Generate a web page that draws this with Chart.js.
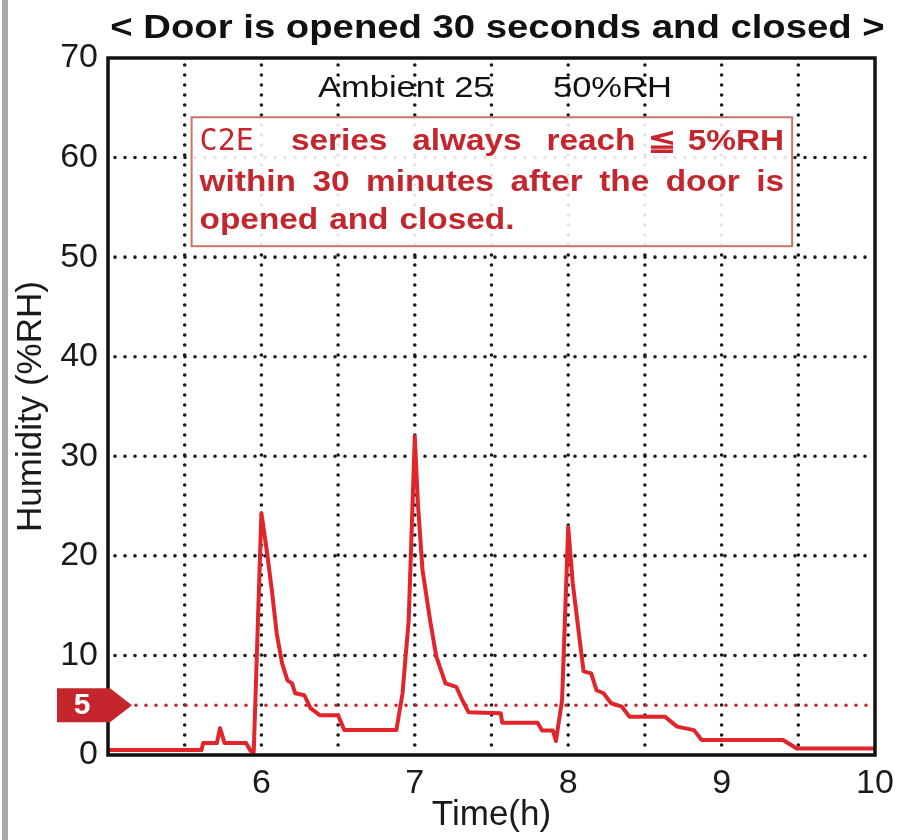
<!DOCTYPE html>
<html>
<head>
<meta charset="utf-8">
<title>Door opening humidity recovery</title>
<script src="https://cdn.jsdelivr.net/npm/chart.js@4.4.1/dist/chart.umd.min.js"></script>
<style>
    html, body { margin: 0; padding: 0; background: #fff; }
    #wrap { width: 897px; height: 840px; position: relative; }
</style>
</head>
<body>
<div id="wrap"><canvas id="humidityChart"></canvas></div>
<script>
// Values
var hours = [5.0, 5.61, 5.62, 5.71, 5.73, 5.76, 5.90, 5.93, 5.95,
    6.00, 6.037, 6.07, 6.10, 6.135, 6.17, 6.20, 6.22, 6.28, 6.32, 6.38,
    6.50, 6.54, 6.88, 6.92, 6.96,
    7.00, 7.02, 7.05, 7.10, 7.14, 7.20, 7.27, 7.31, 7.35,
    7.56, 7.57, 7.80, 7.83, 7.90, 7.92, 7.96,
    8.00, 8.03, 8.10, 8.15, 8.185, 8.23, 8.28, 8.35, 8.40,
    8.63, 8.71, 8.82, 8.87, 9.40, 9.49, 10.0];
var humidity = [0.5, 0.5, 1.2, 1.2, 2.7, 1.2, 1.2, 0.4, 0.3,
    24.3, 20.3, 16.3, 12.2, 9.2, 7.5, 7.2, 6.2, 6.0, 4.7, 4.0,
    4.0, 2.5, 2.5, 6.2, 13.5,
    32.0, 25.3, 18.6, 13.5, 9.9, 7.2, 6.85, 5.5, 4.3,
    4.2, 3.25, 3.25, 2.45, 2.45, 1.4, 5.5,
    22.9, 17.2, 8.4, 8.2, 6.5, 6.2, 5.2, 4.85, 3.85,
    3.85, 2.85, 2.5, 1.5, 1.5, 0.65, 0.65];
var xTickLabels = ['6', '7', '8', '9', '10'];
var yTickLabels = ['0', '10', '20', '30', '40', '50', '60', '70'];
var limitValue = 5;

var chartTitle = '< Door is opened 30 seconds and closed >';
var ambientText = ['Ambient 25', '50%RH'];
var noteLines = [
    ['C2E', 'series', 'always', 'reach', '\u2266', '5%RH'],
    ['within', '30', 'minutes', 'after', 'the', 'door', 'is'],
    ['opened', 'and', 'closed.']
];

var FONT = 'Arial, "Liberation Sans", Helvetica, sans-serif';
var RED = '#c4262e';
var NOTE_FONT = 'bold 29px ' + FONT;
var CODE_FONT = '30px "DejaVu Sans Mono", monospace';

// draws a line of words spread between x0 and x1
function drawWords(ctx, words, x0, x1, y, justify, sx) {
    var fonts = words.map(function(w) { return w === 'C2E' ? CODE_FONT : NOTE_FONT; });
    var widths = words.map(function(w, i) {
        ctx.font = fonts[i];
        return ctx.measureText(w).width * (w === 'C2E' ? 1 : sx);
    });
    var total = widths.reduce(function(a, b) { return a + b; }, 0);
    var weights = words.map(function(w, i) {
        if (i === 0) return 0;
        if (words[i - 1] === 'C2E') return 1.5;
        if (w === '\u2266' || words[i - 1] === '\u2266') return 0.5;
        return 1;
    });
    var wsum = weights.reduce(function(a, b) { return a + b; }, 0);
    var unit = justify ? (x1 - x0 - total) / wsum : 11;
    var x = x0;
    words.forEach(function(w, i) {
        x += weights[i] * unit;
        ctx.save();
        ctx.font = fonts[i];
        ctx.translate(x, y);
        if (w !== 'C2E') ctx.scale(sx, 1);
        ctx.fillText(w, 0, 0);
        ctx.restore();
        x += widths[i];
    });
}

function stretchedText(ctx, text, x, y, sx, align) {
    ctx.save();
    ctx.translate(x, y);
    ctx.scale(sx, 1);
    ctx.textAlign = align || 'left';
    ctx.fillText(text, 0, 0);
    ctx.restore();
}

var decorPlugin = {
    id: 'decor',
    beforeDraw: function(chart) {
        var ctx = chart.ctx;
        ctx.save();
        ctx.fillStyle = '#fff';
        ctx.fillRect(0, 0, chart.width, chart.height);
        ctx.fillStyle = '#a9a9a9';
        ctx.fillRect(2, 0, 6, chart.height);
        ctx.restore();
    },
    beforeDatasetsDraw: function(chart) {
        var ctx = chart.ctx, a = chart.chartArea;
        var xs = chart.scales.x, ys = chart.scales.y;
        ctx.save();
        ctx.lineCap = 'round';
        ctx.lineWidth = 3.6;
        ctx.setLineDash([0, 10]);
        ctx.strokeStyle = '#1a1a1a';
        xs.ticks.forEach(function(t) {
            if (t.value <= xs.min || t.value >= xs.max) return;
            var px = xs.getPixelForValue(t.value);
            ctx.beginPath();
            ctx.moveTo(px, a.top + 7);
            ctx.lineTo(px, a.bottom);
            ctx.stroke();
        });
        ys.ticks.forEach(function(t) {
            if (t.value <= ys.min || t.value >= ys.max) return;
            var py = ys.getPixelForValue(t.value);
            ctx.beginPath();
            ctx.moveTo(a.left + 7, py);
            ctx.lineTo(a.right, py);
            ctx.stroke();
        });
        // dotted limit line at 5 %RH
        var p5 = ys.getPixelForValue(limitValue);
        ctx.strokeStyle = RED;
        ctx.beginPath();
        ctx.moveTo(a.left + 28, p5);
        ctx.lineTo(a.right, p5);
        ctx.stroke();
        ctx.restore();
    },
    afterDatasetsDraw: function(chart) {
        var ctx = chart.ctx, a = chart.chartArea;
        var xs = chart.scales.x, ys = chart.scales.y;
        ctx.save();

        // frame
        ctx.strokeStyle = '#111';
        ctx.lineWidth = 3.5;
        ctx.strokeRect(a.left, a.top, a.right - a.left, a.bottom - a.top);

        // title
        ctx.fillStyle = '#111';
        ctx.font = 'bold 33px ' + FONT;
        stretchedText(ctx, chartTitle, (a.left + a.right) / 2 + 6, 38, 1.16, 'center');

        // ambient condition
        ctx.fillStyle = '#111';
        ctx.font = '30px ' + FONT;
        stretchedText(ctx, ambientText[0], a.left + 210, a.top + 39, 1.15);
        stretchedText(ctx, ambientText[1], a.left + 445, a.top + 39, 1.15);

        // note box
        var bx0 = xs.getPixelForValue(5.545), bx1 = xs.getPixelForValue(9.46);
        var by0 = ys.getPixelForValue(64.05), by1 = ys.getPixelForValue(51.1);
        ctx.fillStyle = 'rgba(255,255,255,0.88)';
        ctx.fillRect(bx0, by0, bx1 - bx0, by1 - by0);
        ctx.strokeStyle = '#c97565';
        ctx.lineWidth = 2;
        ctx.strokeRect(bx0, by0, bx1 - bx0, by1 - by0);
        ctx.fillStyle = RED;
        drawWords(ctx, noteLines[0], bx0 + 8, bx1 - 8, by0 + 33, true, 1.15);
        drawWords(ctx, noteLines[1], bx0 + 8, bx1 - 8, by0 + 74, true, 1.15);
        drawWords(ctx, noteLines[2], bx0 + 8, bx1 - 8, by0 + 112, false, 1.15);

        // limit marker
        var p5 = ys.getPixelForValue(limitValue);
        var mx0 = a.left - 51, mx1 = a.left + 2, tip = a.left + 24;
        ctx.fillStyle = '#c5262d';
        ctx.beginPath();
        ctx.moveTo(mx0, p5 - 17);
        ctx.lineTo(mx1, p5 - 17);
        ctx.lineTo(tip, p5);
        ctx.lineTo(mx1, p5 + 17);
        ctx.lineTo(mx0, p5 + 17);
        ctx.closePath();
        ctx.fill();
        ctx.fillStyle = '#fff';
        ctx.font = 'bold 30px ' + FONT;
        ctx.textAlign = 'center';
        ctx.textBaseline = 'middle';
        ctx.fillText(String(limitValue), a.left - 26, p5 + 1);
        ctx.restore();
    }
};

var ctx = document.getElementById('humidityChart').getContext('2d');
var humidityChart = new Chart(ctx, {
    type: 'line',
    data: {
        datasets: [{
            label: 'Humidity',
            data: hours.map(function(h, i) { return { x: h, y: humidity[i] }; }),
            borderColor: '#e1252b',
            borderWidth: 4,
            borderJoinStyle: 'round',
            pointRadius: 0,
            tension: 0,
            fill: false
        }]
    },
    options: {
        responsive: true,
        maintainAspectRatio: false,
        animation: false,
        layout: { padding: { left: 10, right: 22, top: 58, bottom: 4 } },
        plugins: {
            legend: { display: false },
            tooltip: { enabled: false },
            title: { display: false }
        },
        scales: {
            x: {
                type: 'linear',
                min: 5,
                max: 10,
                afterFit: function(scale) { scale.height = 81; },
                grid: { display: false },
                border: { display: false },
                ticks: {
                    stepSize: 0.5,
                    autoSkip: false,
                    maxRotation: 0,
                    padding: 0,
                    color: '#1a1a1a',
                    font: { family: FONT, size: 34 },
                    callback: function(v) {
                        var s = String(v);
                        return xTickLabels.indexOf(s) >= 0 ? s : '';
                    }
                },
                title: {
                    display: true,
                    text: 'Time(h)',
                    color: '#1a1a1a',
                    font: { family: FONT, size: 35 },
                    padding: { top: 0, bottom: 0 }
                }
            },
            y: {
                min: 0,
                max: 70,
                afterFit: function(scale) { scale.width = 98; },
                grid: { display: false },
                border: { display: false },
                ticks: {
                    stepSize: 10,
                    padding: 2,
                    color: '#1a1a1a',
                    font: { family: FONT, size: 34 },
                    callback: function(v) {
                        var s = String(v);
                        return yTickLabels.indexOf(s) >= 0 ? s : '';
                    }
                },
                title: {
                    display: true,
                    text: 'Humidity (%RH)',
                    color: '#1a1a1a',
                    font: { family: FONT, size: 35 },
                    padding: { top: 0, bottom: 4 }
                }
            }
        }
    },
    plugins: [decorPlugin]
});
</script>
</body>
</html>
